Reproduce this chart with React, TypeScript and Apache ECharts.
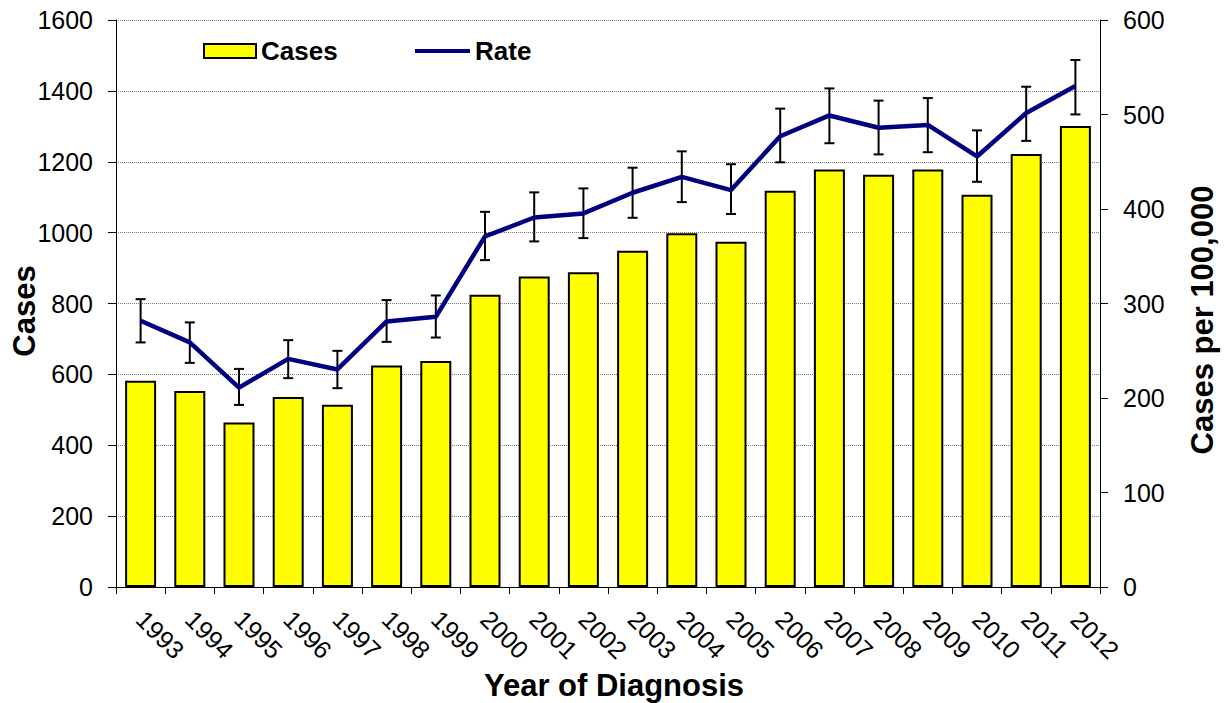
import React, { useEffect, useRef } from "react";
import * as echarts from "echarts";

const years = ["1993","1994","1995","1996","1997","1998","1999","2000","2001","2002","2003","2004","2005","2006","2007","2008","2009","2010","2011","2012"];
const cases = [582, 553, 464, 536, 514, 625, 638, 825, 876, 888, 949, 998, 974, 1118, 1178, 1163, 1178, 1107, 1222, 1301];
const rate = [281.7, 258.8, 211, 241.4, 230.2, 281, 285.9, 371, 391, 395.3, 417.2, 434, 420, 477, 499, 486, 489, 455.6, 501.6, 530.2];
const rateLower = [258.8, 237.2, 192.7, 221, 210.4, 259.4, 264, 345.9, 365.7, 369.2, 390.7, 407.3, 394.7, 449.4, 469.6, 457.8, 460.1, 428.8, 472.1, 500.1];
const rateUpper = [304.6, 280, 230.8, 261.2, 249.9, 303.6, 308.5, 397, 417.6, 421.8, 443.7, 461, 447.4, 506.2, 527.6, 514.7, 517.4, 483.2, 529.4, 557.7];
const leftTicks = { min: 0, max: 1600, interval: 200 };
const rightTicks = { min: 0, max: 600, interval: 100 };

const FONT = "'Liberation Sans', Arial, sans-serif";

export default function App() {
  const ref = useRef<HTMLDivElement>(null);
  useEffect(() => {
    if (!ref.current) return;
    const chart = echarts.init(ref.current, null, { renderer: "svg" });
    const errData = years.map((_, i) => [i, rateLower[i], rateUpper[i]]);
    const legendText = { fontSize: 26, fontWeight: "bold", color: "#000", fontFamily: FONT };
    chart.setOption({
      animation: false,
      backgroundColor: "#ffffff",
      textStyle: { fontFamily: FONT },
      grid: { left: 116, right: 127, top: 20, bottom: 116, containLabel: false },
      legend: [
        {
          data: [{ name: "Cases", icon: "rect" }],
          left: 198,
          top: 33,
          itemWidth: 52,
          itemHeight: 14,
          textStyle: legendText,
        },
        {
          data: [{ name: "Rate", icon: "rect" }],
          left: 410,
          top: 33,
          itemWidth: 55,
          itemHeight: 4,
          itemStyle: { color: "#000080", borderWidth: 0 },
          textStyle: legendText,
        },
      ],
      xAxis: {
        type: "category",
        data: years,
        axisLine: { lineStyle: { color: "#000", width: 1 } },
        axisTick: { show: true, length: 7, lineStyle: { color: "#000" } },
        axisLabel: { rotate: -45, fontSize: 25, color: "#000", margin: 28, fontFamily: FONT, interval: 0 },
        splitLine: { show: false },
      },
      yAxis: [
        {
          type: "value",
          min: leftTicks.min,
          max: leftTicks.max,
          interval: leftTicks.interval,
          axisLine: { show: true, lineStyle: { color: "#000", width: 1 } },
          axisTick: { show: true, length: 8, lineStyle: { color: "#000" } },
          axisLabel: { fontSize: 25, color: "#000", margin: 23, fontFamily: FONT, formatter: (v: number) => String(v) },
          splitLine: { show: true, lineStyle: { color: "#777", type: "dotted", width: 1 } },
        },
        {
          type: "value",
          min: rightTicks.min,
          max: rightTicks.max,
          interval: rightTicks.interval,
          position: "right",
          axisLine: { show: true, lineStyle: { color: "#000", width: 1 } },
          axisTick: { show: true, length: 8, lineStyle: { color: "#000" } },
          axisLabel: { fontSize: 25, color: "#000", margin: 23, fontFamily: FONT, formatter: (v: number) => String(v) },
          splitLine: { show: false },
        },
      ],
      graphic: [
        {
          type: "text",
          x: 24,
          y: 311,
          rotation: Math.PI / 2,
          style: { text: "Cases", font: `bold 31px ${FONT}`, fill: "#000", textAlign: "center", textVerticalAlign: "middle" },
        },
        {
          type: "text",
          x: 1202,
          y: 320,
          rotation: Math.PI / 2,
          style: { text: "Cases per 100,000", font: `bold 31px ${FONT}`, fill: "#000", textAlign: "center", textVerticalAlign: "middle" },
        },
        {
          type: "text",
          x: 614,
          y: 685,
          style: { text: "Year of Diagnosis", font: `bold 31px ${FONT}`, fill: "#000", textAlign: "center", textVerticalAlign: "middle" },
        },
      ],
      series: [
        {
          name: "Cases",
          type: "bar",
          data: cases,
          barWidth: 31,
          itemStyle: { color: "#FFFF00", borderColor: "#000", borderWidth: 2 },
          z: 2,
        },
        {
          name: "RateError",
          type: "custom",
          yAxisIndex: 1,
          data: errData,
          encode: { x: 0, y: [1, 2] },
          z: 3,
          renderItem: (params: any, api: any) => {
            const idx = api.value(0);
            const lo = api.coord([idx, api.value(1)]);
            const hi = api.coord([idx, api.value(2)]);
            const hw = 5;
            const style = { stroke: "#000", lineWidth: 2 };
            return {
              type: "group",
              children: [
                { type: "line", shape: { x1: lo[0], y1: lo[1], x2: hi[0], y2: hi[1] }, style },
                { type: "line", shape: { x1: lo[0] - hw, y1: lo[1], x2: lo[0] + hw, y2: lo[1] }, style },
                { type: "line", shape: { x1: hi[0] - hw, y1: hi[1], x2: hi[0] + hw, y2: hi[1] }, style },
              ],
            };
          },
        },
        {
          name: "Rate",
          type: "line",
          yAxisIndex: 1,
          data: rate,
          symbol: "none",
          lineStyle: { color: "#000080", width: 4.5 },
          itemStyle: { color: "#000080" },
          z: 4,
        },
      ],
    });
    return () => chart.dispose();
  }, []);
  return <div ref={ref} style={{ position: "fixed", left: 0, top: 0, width: 1227, height: 703 }} />;
}
